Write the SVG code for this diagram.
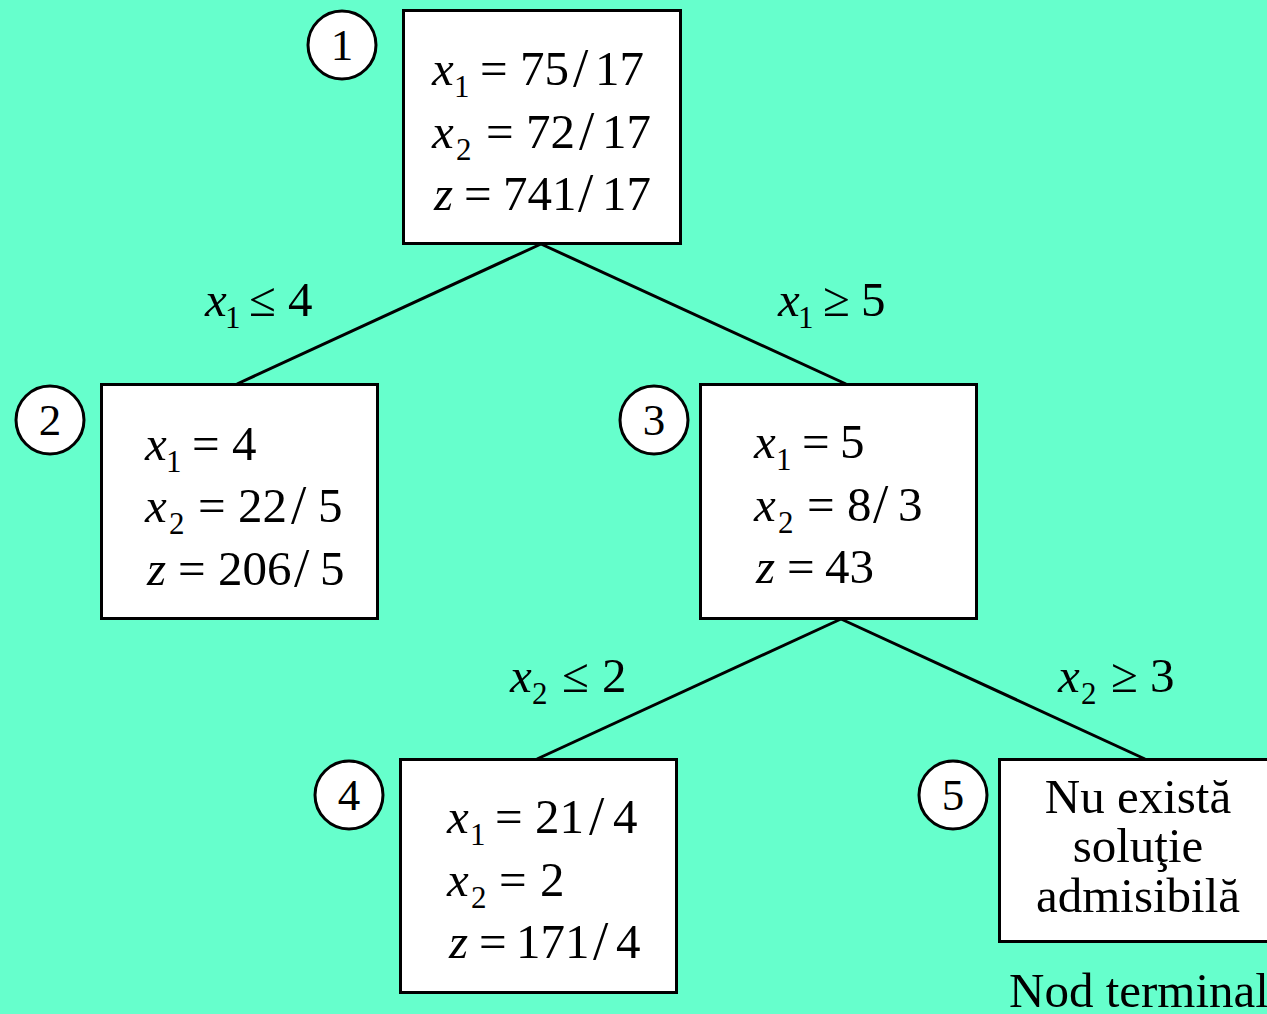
<svg xmlns="http://www.w3.org/2000/svg" width="1267" height="1014" viewBox="0 0 1267 1014" font-family="'Liberation Serif', 'Times New Roman', serif">
<style>
.bg{fill:#66FFCC}
.box{fill:#fff;stroke:#000;stroke-width:3}
.num{fill:#fff;stroke:#000;stroke-width:3}
.edge{stroke:#000;stroke-width:3;fill:none}
text,tspan{font-family:'Liberation Serif','Times New Roman',serif}
text{font-size:49px;fill:#000}
.i{font-style:italic}
.s{font-size:31px}
.sl{font-size:55px}
.c{font-size:45px;text-anchor:middle}
.t{font-size:49px;text-anchor:middle}
</style>
<rect class="bg" x="0" y="0" width="1267" height="1014"/>
<g id="connectors">
<line class="edge" x1="541" y1="244" x2="237" y2="384"/>
<line class="edge" x1="541" y1="244" x2="846" y2="384"/>
<line class="edge" x1="841" y1="619" x2="537" y2="759"/>
<line class="edge" x1="841" y1="619" x2="1145" y2="759"/>
<text><tspan class="i" x="205" y="316">x</tspan><tspan class="s" x="225" y="328">1</tspan><tspan x="249" y="316">≤</tspan><tspan x="288" y="316">4</tspan></text>
<text><tspan class="i" x="778" y="316">x</tspan><tspan class="s" x="798" y="328">1</tspan><tspan x="823" y="316">≥</tspan><tspan x="861" y="316">5</tspan></text>
<text><tspan class="i" x="510" y="692">x</tspan><tspan class="s" x="532" y="704">2</tspan><tspan x="562" y="692">≤</tspan><tspan x="602" y="692">2</tspan></text>
<text><tspan class="i" x="1058" y="692">x</tspan><tspan class="s" x="1081" y="704">2</tspan><tspan x="1111" y="692">≥</tspan><tspan x="1150" y="692">3</tspan></text>
</g>
<g id="node1">
<rect class="box" x="403.5" y="10.5" width="277" height="233"/>
<circle class="num" cx="342" cy="45" r="34"/>
<text class="c" x="342" y="60">1</text>
<text><tspan class="i" x="432" y="85">x</tspan><tspan class="s" x="454" y="97">1</tspan><tspan x="480" y="85">=</tspan><tspan x="520" y="85">75</tspan><tspan class="sl" x="573" y="86">/</tspan><tspan x="595" y="85">17</tspan></text>
<text><tspan class="i" x="432" y="148">x</tspan><tspan class="s" x="456" y="160">2</tspan><tspan x="486" y="148">=</tspan><tspan x="526" y="148">72</tspan><tspan class="sl" x="579" y="149">/</tspan><tspan x="602" y="148">17</tspan></text>
<text><tspan class="i" x="434" y="210">z</tspan><tspan x="464" y="210">=</tspan><tspan x="503" y="210">741</tspan><tspan class="sl" x="578" y="211">/</tspan><tspan x="602" y="210">17</tspan></text>
</g>
<g id="node2">
<rect class="box" x="101.5" y="384.5" width="276" height="234"/>
<circle class="num" cx="50" cy="420" r="34"/>
<text class="c" x="50" y="435">2</text>
<text><tspan class="i" x="145" y="460">x</tspan><tspan class="s" x="166" y="472">1</tspan><tspan x="192" y="460">=</tspan><tspan x="232" y="460">4</tspan></text>
<text><tspan class="i" x="145" y="522">x</tspan><tspan class="s" x="169" y="534">2</tspan><tspan x="198" y="522">=</tspan><tspan x="238" y="522">22</tspan><tspan class="sl" x="291" y="523">/</tspan><tspan x="318" y="522">5</tspan></text>
<text><tspan class="i" x="147" y="585">z</tspan><tspan x="178" y="585">=</tspan><tspan x="218" y="585">206</tspan><tspan class="sl" x="294" y="586">/</tspan><tspan x="320" y="585">5</tspan></text>
</g>
<g id="node3">
<rect class="box" x="700.5" y="384.5" width="276" height="234"/>
<circle class="num" cx="654" cy="420" r="34"/>
<text class="c" x="654" y="435">3</text>
<text><tspan class="i" x="754" y="458">x</tspan><tspan class="s" x="776" y="470">1</tspan><tspan x="802" y="458">=</tspan><tspan x="840" y="458">5</tspan></text>
<text><tspan class="i" x="754" y="521">x</tspan><tspan class="s" x="778" y="533">2</tspan><tspan x="807" y="521">=</tspan><tspan x="847" y="521">8</tspan><tspan class="sl" x="873" y="522">/</tspan><tspan x="898" y="521">3</tspan></text>
<text><tspan class="i" x="756" y="583">z</tspan><tspan x="787" y="583">=</tspan><tspan x="825" y="583">43</tspan></text>
</g>
<g id="node4">
<rect class="box" x="400.5" y="759.5" width="276" height="233"/>
<circle class="num" cx="349" cy="795" r="34"/>
<text class="c" x="349" y="810">4</text>
<text><tspan class="i" x="447" y="833">x</tspan><tspan class="s" x="470" y="845">1</tspan><tspan x="495" y="833">=</tspan><tspan x="535" y="833">21</tspan><tspan class="sl" x="589" y="834">/</tspan><tspan x="613" y="833">4</tspan></text>
<text><tspan class="i" x="447" y="896">x</tspan><tspan class="s" x="471" y="908">2</tspan><tspan x="499" y="896">=</tspan><tspan x="540" y="896">2</tspan></text>
<text><tspan class="i" x="449" y="958">z</tspan><tspan x="479" y="958">=</tspan><tspan x="516" y="958">171</tspan><tspan class="sl" x="593" y="959">/</tspan><tspan x="616" y="958">4</tspan></text>
</g>
<g id="node5">
<rect class="box" x="999.5" y="759.5" width="280" height="182"/>
<circle class="num" cx="953" cy="795" r="34"/>
<text class="c" x="953" y="810">5</text>
<text class="t" x="1138" y="813">Nu există</text>
<text class="t" x="1138" y="862">soluţie</text>
<text class="t" x="1138" y="912">admisibilă</text>
</g>
<g id="label-terminal">
<text class="t" x="1139" y="1007">Nod terminal</text>
</g>
</svg>
